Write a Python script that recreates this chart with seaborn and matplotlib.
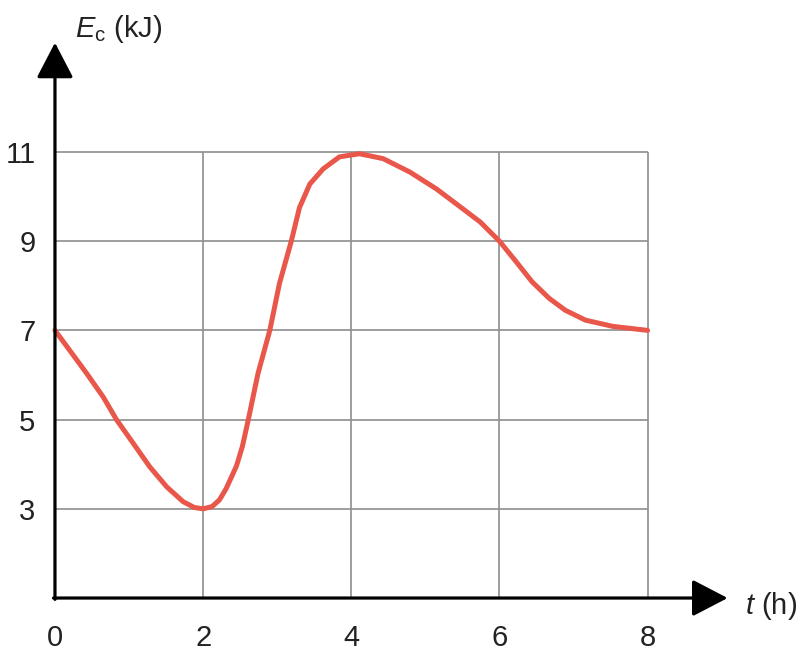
import numpy as np
import pandas as pd
import seaborn as sns
import matplotlib.pyplot as plt

# values
t_hours = [0.00, 0.20, 0.43, 0.65, 0.83, 1.06, 1.28, 1.51, 1.73, 1.88, 2.00, 2.12,
           2.22, 2.31, 2.45, 2.53, 2.61, 2.74, 2.90, 3.03, 3.19, 3.30, 3.44, 3.62,
           3.84, 4.11, 4.43, 4.79, 5.15, 5.51, 5.74, 6.00, 6.22, 6.44, 6.67, 6.89,
           7.16, 7.53, 8.00]
energy_kj = [7.00, 6.55, 6.03, 5.51, 5.00, 4.46, 3.94, 3.49, 3.16, 3.03, 3.00, 3.05,
             3.20, 3.45, 3.96, 4.40, 5.00, 6.03, 7.00, 8.05, 9.00, 9.75, 10.28, 10.62,
             10.89, 10.96, 10.85, 10.55, 10.17, 9.72, 9.43, 9.00, 8.55, 8.09, 7.72, 7.45,
             7.23, 7.09, 7.00]

x_ticks = [0, 2, 4, 6, 8]
y_ticks = [3, 5, 7, 9, 11]

curve = pd.DataFrame({"t": t_hours, "E": energy_kj})

sns.set_style("white")
plt.rcParams["font.family"] = ["Liberation Sans", "DejaVu Sans"]
plt.rcParams["mathtext.fontset"] = "custom"
plt.rcParams["mathtext.it"] = "Liberation Sans:italic"
plt.rcParams["mathtext.rm"] = "Liberation Sans"

fig = plt.figure(figsize=(8.12, 6.67), dpi=100)
ax = fig.add_axes([0.0677, 0.1034, 0.843, 0.844])
ax.set_xlim(0, 9.24)
ax.set_ylim(1, 13.62)

# grid box only inside 0..8 x 1..11
grid_col = "#8e8e8e"
ax.vlines(x_ticks[1:], 1, y_ticks[-1], color=grid_col, lw=1.2, zorder=1)
ax.hlines(y_ticks, 0, x_ticks[-1], color=grid_col, lw=1.2, zorder=1)

sns.lineplot(data=curve, x="t", y="E", ax=ax, sort=False, color="#e9574b",
             lw=3.6, solid_joinstyle="round", solid_capstyle="round",
             clip_on=False, zorder=3)

# axes with arrow heads
arrow = dict(arrowstyle="-|>,head_length=1.0,head_width=0.52", lw=2.3,
             color="black", mutation_scale=22, shrinkA=0, shrinkB=0)
ax.annotate("", xy=(9.08, 1), xytext=(-0.02, 1), arrowprops=arrow,
            annotation_clip=False, zorder=4)
ax.annotate("", xy=(0, 13.45), xytext=(0, 0.97), arrowprops=arrow,
            annotation_clip=False, zorder=4)

for s in ax.spines.values():
    s.set_visible(False)

ax.set_xticks(x_ticks)
ax.set_yticks(y_ticks)
ax.set_xticklabels([str(v) for v in x_ticks])
ax.set_yticklabels([str(v) for v in y_ticks])
ax.tick_params(axis="both", length=0, labelsize=21, colors="#222222")
ax.tick_params(axis="x", pad=19)
ax.tick_params(axis="y", pad=14)
ax.set_xlabel("")
ax.set_ylabel("")

ax.text(0.27, 13.58, r"$E_{\mathrm{c}}$ (kJ)", fontsize=21, va="baseline",
        ha="left", color="#222222", clip_on=False)
ax.text(9.31, 0.64, r"$t$ (h)", fontsize=21, va="baseline", ha="left",
        color="#222222", clip_on=False)

fig.savefig("out.png", dpi=100)
